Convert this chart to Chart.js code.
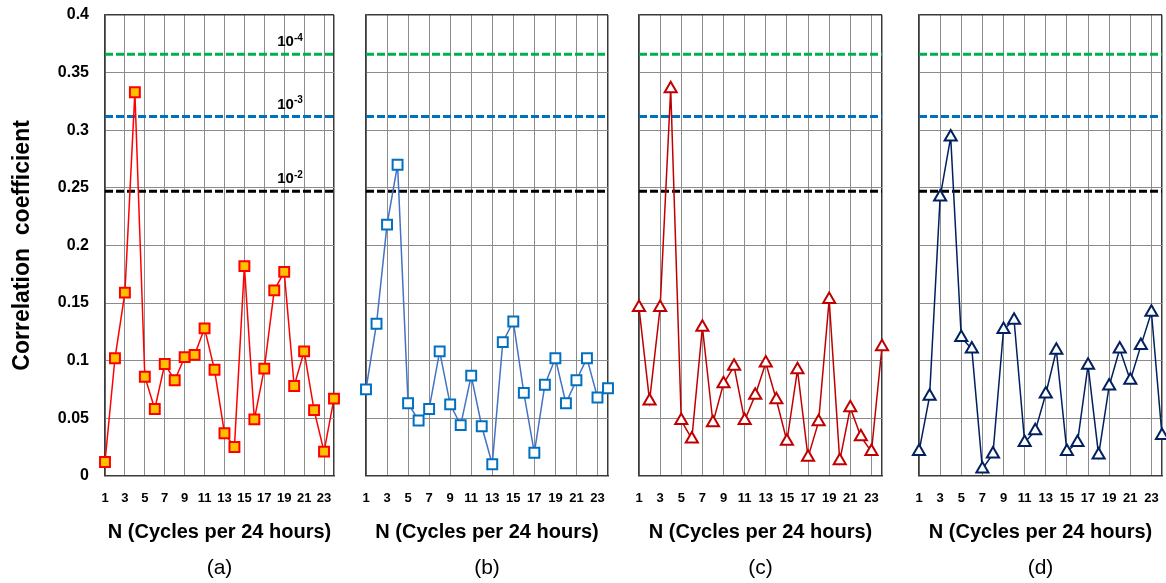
<!DOCTYPE html>
<html>
<head>
<meta charset="utf-8">
<script src="https://cdn.jsdelivr.net/npm/chart.js@4"></script>
<style>
  html, body { margin: 0; padding: 0; background: #fff; }
  #wrap { position: relative; width: 1166px; height: 583px; overflow: hidden; }
  #wrap canvas { position: absolute; top: 0; }
</style>
</head>
<body>
<div id="wrap">
  <canvas id="pa"></canvas>
  <canvas id="pb"></canvas>
  <canvas id="pc"></canvas>
  <canvas id="pd"></canvas>
</div>
<script>
// N = number of cycles per 24 hours
const cycles = [1, 2, 3, 4, 5, 6, 7, 8, 9, 10, 11, 12, 13, 14, 15, 16, 17, 18, 19, 20, 21, 22, 23, 24];
const xTickValues = [1, 3, 5, 7, 9, 11, 13, 15, 17, 19, 21, 23];
const yTickValues = [0, 0.05, 0.1, 0.15, 0.2, 0.25, 0.3, 0.35, 0.4];

// correlation coefficient, one array per panel
const corrA = [0.012, 0.102, 0.159, 0.333, 0.086, 0.058, 0.097, 0.083, 0.103, 0.105, 0.128, 0.092,
               0.037, 0.025, 0.182, 0.049, 0.093, 0.161, 0.177, 0.078, 0.108, 0.057, 0.021, 0.067];
const corrB = [0.075, 0.132, 0.218, 0.270, 0.063, 0.048, 0.058, 0.108, 0.062, 0.044, 0.087, 0.043,
               0.010, 0.116, 0.134, 0.072, 0.020, 0.079, 0.102, 0.063, 0.083, 0.102, 0.068, 0.076];
const corrC = [0.146, 0.065, 0.146, 0.336, 0.048, 0.032, 0.129, 0.046, 0.080, 0.095, 0.048, 0.070,
               0.098, 0.066, 0.030, 0.092, 0.016, 0.047, 0.153, 0.013, 0.059, 0.034, 0.021, 0.112];
const corrD = [0.021, 0.069, 0.242, 0.294, 0.120, 0.110, 0.006, 0.019, 0.127, 0.135, 0.029, 0.039,
               0.071, 0.109, 0.021, 0.029, 0.096, 0.018, 0.078, 0.110, 0.083, 0.113, 0.142, 0.035];

// significance levels (p = 10^-2, 10^-3, 10^-4)
const levelValues = [0.247, 0.312, 0.366];
const levelExponents = ['-2', '-3', '-4'];
const levelColors = ['#000000', '#0070C0', '#00B050'];

const FONT = '"Liberation Sans", Arial, Helvetica, sans-serif';
const GRID = '#8c8c8c';
const FRAME = '#3a3a3a';
const X_MAX = cycles[cycles.length - 1];

Chart.defaults.color = '#000';
Chart.defaults.font.family = FONT;

// label the dashed lines in panel (a)
const levelLabelPlugin = {
  id: 'levelLabels',
  afterDatasetsDraw(chart) {
    const { ctx, scales: { x, y } } = chart;
    ctx.save();
    ctx.fillStyle = '#000';
    ctx.textAlign = 'left';
    ctx.textBaseline = 'middle';
    levelValues.forEach((v, i) => {
      const py = y.getPixelForValue(v) - 12;
      const px = x.getPixelForValue(18.3);
      ctx.font = 'bold 15px ' + FONT;
      ctx.fillText('10', px, py);
      const w = ctx.measureText('10').width;
      ctx.font = 'bold 10px ' + FONT;
      ctx.fillText(levelExponents[i], px + w, py - 4);
    });
    ctx.restore();
  }
};

const panels = [
  { id: 'pa', left: 0,   width: 345, plotLeft: 105, plotRight: 334, tag: '(a)', values: corrA,
    line: '#FF0000', marker: 'rect', markerBorder: '#FF0000', markerFill: '#FFC000', yLabels: true },
  { id: 'pb', left: 345, width: 275, plotLeft: 366, plotRight: 608, tag: '(b)', values: corrB,
    line: '#4472C4', marker: 'rect', markerBorder: '#0070C0', markerFill: '#FFFFFF', yLabels: false },
  { id: 'pc', left: 620, width: 280, plotLeft: 639, plotRight: 882, tag: '(c)', values: corrC,
    line: '#C00000', marker: 'triangle', markerBorder: '#C00000', markerFill: '#FFFFFF', yLabels: false },
  { id: 'pd', left: 900, width: 266, plotLeft: 919, plotRight: 1162, tag: '(d)', values: corrD,
    line: '#002060', marker: 'triangle', markerBorder: '#002060', markerFill: '#FFFFFF', yLabels: false }
];

panels.forEach((p) => {
  const canvas = document.getElementById(p.id);
  canvas.width = p.width;
  canvas.height = 583;
  canvas.style.left = p.left + 'px';

  const datasets = [{
    data: p.values,
    borderColor: p.line,
    borderWidth: 1.5,
    pointStyle: p.marker,
    pointRadius: 7,
    pointBorderWidth: 2,
    pointBorderColor: p.markerBorder,
    pointBackgroundColor: p.markerFill,
    tension: 0,
    clip: false
  }];
  levelValues.forEach((v, i) => {
    datasets.push({
      data: cycles.map(() => v),
      borderColor: levelColors[i],
      borderWidth: 3,
      borderDash: [8, 3],
      pointRadius: 0,
      tension: 0
    });
  });

  new Chart(canvas, {
    type: 'line',
    data: { labels: cycles, datasets },
    options: {
      responsive: false,
      animation: false,
      layout: {
        autoPadding: false,
        padding: { top: 15, right: p.left + p.width - p.plotRight, left: 0, bottom: 0 }
      },
      plugins: {
        legend: { display: false },
        tooltip: { enabled: false },
        title: {
          display: true,
          text: p.tag,
          position: 'bottom',
          fullSize: false,
          font: { size: 21, weight: 'normal' },
          padding: { top: 0, bottom: 2 }
        }
      },
      scales: {
        x: {
          type: 'linear',
          min: 1,
          max: X_MAX,
          afterBuildTicks: (axis) => {
            axis.ticks = xTickValues.concat([X_MAX]).map((v) => ({ value: v }));
          },
          afterFit: (axis) => {
            axis.height = 80;
            axis.paddingLeft = 0;
            axis.paddingRight = 0;
          },
          ticks: {
            padding: 15,
            maxRotation: 0,
            autoSkip: false,
            font: { size: 13, weight: 'bold' },
            callback: (v) => (v === X_MAX ? '' : String(v))
          },
          grid: {
            drawTicks: false,
            color: (c) => (c.tick && c.tick.value === X_MAX ? FRAME : GRID),
            lineWidth: (c) => (c.tick && c.tick.value === X_MAX ? 1.5 : 1)
          },
          border: { color: FRAME, width: 1.5 },
          title: {
            display: true,
            text: 'N (Cycles per 24 hours)',
            font: { size: 20, weight: 'bold' },
            padding: { top: 0, bottom: 11 }
          }
        },
        y: {
          min: 0,
          max: 0.4,
          afterBuildTicks: (axis) => {
            axis.ticks = yTickValues.map((v) => ({ value: v }));
          },
          afterFit: (axis) => {
            axis.width = p.plotLeft - p.left;
            axis.paddingTop = 0;
            axis.paddingBottom = 0;
          },
          ticks: {
            display: p.yLabels,
            padding: 16,
            font: { size: 16, weight: 'bold' },
            callback: (v) => String(Number(v.toFixed(2)))
          },
          grid: {
            drawTicks: false,
            color: (c) => (c.tick && c.tick.value === 0.4 ? FRAME : GRID),
            lineWidth: (c) => (c.tick && c.tick.value === 0.4 ? 1.5 : 1)
          },
          border: { color: FRAME, width: 1.5 },
          title: {
            display: p.yLabels,
            text: 'Correlation  coefficient',
            font: { size: 23, weight: 'bold' },
            padding: { top: 9, bottom: 0 }
          }
        }
      }
    },
    plugins: p.yLabels ? [levelLabelPlugin] : []
  });
});
</script>
</body>
</html>
